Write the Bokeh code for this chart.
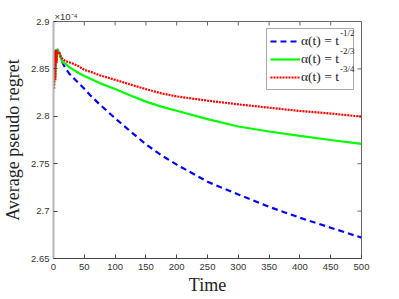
import math
from bokeh.plotting import figure
from bokeh.models import Legend, LegendItem, Label, FixedTicker, Range1d
from bokeh.embed import file_html
from bokeh.resources import INLINE

# ---- data (values in units of 1e-4) ----
t = [1, 2, 3, 4, 5, 6, 7, 8, 10, 12, 15, 20, 25, 30, 40, 50, 60, 75, 100, 125,
     150, 175, 200, 250, 300, 350, 400, 450, 500]
blue = [2.838, 2.869, 2.850, 2.871, 2.862, 2.871, 2.870, 2.871, 2.866, 2.861,
        2.856, 2.850, 2.8455, 2.842, 2.8355, 2.829, 2.822, 2.8125, 2.798, 2.784,
        2.7705, 2.759, 2.749, 2.731, 2.7175, 2.7045, 2.693, 2.6825, 2.672]
green = [2.833, 2.870, 2.842, 2.871, 2.858, 2.871, 2.868, 2.869, 2.865, 2.861,
         2.857, 2.855, 2.852, 2.850, 2.846, 2.8425, 2.8395, 2.835, 2.8287, 2.822,
         2.8155, 2.8102, 2.8058, 2.797, 2.7892, 2.784, 2.7794, 2.775, 2.771]
red = [2.829, 2.869, 2.838, 2.870, 2.856, 2.870, 2.867, 2.868, 2.866, 2.863,
       2.860, 2.858, 2.857, 2.856, 2.853, 2.849, 2.847, 2.8433, 2.8385, 2.8335,
       2.8287, 2.8242, 2.821, 2.8165, 2.8126, 2.8091, 2.8056, 2.8029, 2.7997]

series_labels = ["\u03b1(t) = t", "\u03b1(t) = t", "\u03b1(t) = t"]
series_exps = ["-1/2", "-2/3", "-3/4"]

x_ticks = [0, 50, 100, 150, 200, 250, 300, 350, 400, 450, 500]
y_ticks = [2.65, 2.7, 2.75, 2.8, 2.85, 2.9]
y_tick_labels = ["2.65", "2.7", "2.75", "2.8", "2.85", "2.9"]
x_label = "Time"
y_label = "Average pseudo regret"
multiplier = "\u00d710\u207b\u2074"

X0, X1 = 0, 500
Y0, Y1 = 2.65, 2.9

W, H = 391, 297
BL, BR, BT, BB = 52, 30, 21, 38
p = figure(width=W, height=H, output_backend="svg", toolbar_location=None,
           x_range=Range1d(X0, X1), y_range=Range1d(Y0, Y1),
           min_border_left=BL, min_border_right=BR, min_border_top=BT,
           min_border_bottom=BB)
p.background_fill_color = "white"
p.border_fill_color = "white"
p.grid.visible = False
p.outline_line_color = "#666666"
p.outline_line_width = 1

serif = "Liberation Serif"
sans = "Liberation Sans"

# multiplier shown as the (left aligned) title
p.title.text = multiplier
p.title.text_font = sans
p.title.text_font_size = "9.5px"
p.title.text_font_style = "normal"
p.title.text_color = "#333333"
p.title.align = "left"
p.title.standoff = 0
p.title.offset = 1

for ax in (p.xaxis[0], p.yaxis[0]):
    ax.major_tick_in = 4
    ax.major_tick_out = 0
    ax.minor_tick_in = 0
    ax.minor_tick_out = 0
    ax.major_label_text_font = sans
    ax.major_label_text_font_size = "9.5px"
    ax.major_label_text_color = "#333333"
    ax.axis_label_text_font = serif
    ax.axis_label_text_font_size = "18px"
    ax.axis_label_text_font_style = "normal"
    ax.axis_label_text_color = "#222222"
    ax.major_tick_line_color = "#444444"

p.xaxis.ticker = FixedTicker(ticks=x_ticks)
p.yaxis.ticker = FixedTicker(ticks=y_ticks)
p.yaxis.major_label_overrides = {v: s for v, s in zip(y_ticks, y_tick_labels)}
p.xaxis.axis_label = x_label
p.yaxis.axis_label = y_label
p.xaxis.axis_line_color = "#444444"
p.yaxis.axis_line_color = "#b5b5b5"
p.yaxis.axis_line_width = 2
p.xaxis.major_label_standoff = 5
p.yaxis.major_label_standoff = 4
p.xaxis.axis_label_standoff = 2
p.yaxis.axis_label_standoff = 5

# box ticks on the top and right edges (drawn from the tick lists)
p.ray(x=x_ticks, y=[Y1] * len(x_ticks), length=4, length_units="screen",
      angle=-math.pi / 2, line_color="#666666", line_width=1)
p.ray(x=[X1] * len(y_ticks), y=y_ticks, length=4, length_units="screen",
      angle=math.pi, line_color="#666666", line_width=1)

r_blue = p.line(t, blue, line_color="#0000ff", line_width=2.2, line_dash="6 4")
r_green = p.line(t, green, line_color="#00ff00", line_width=2.2)
r_red = p.line(t, red, line_color="#ff0000", line_width=2.2, line_dash="2 1")

legend = Legend(items=[LegendItem(label=series_labels[0], renderers=[r_blue]),
                       LegendItem(label=series_labels[1], renderers=[r_green]),
                       LegendItem(label=series_labels[2], renderers=[r_red])],
                location="top_right")
legend.margin = 7
legend.padding = 3
legend.spacing = 0
legend.label_text_font = serif
legend.label_text_font_size = "13.5px"
legend.label_text_color = "#222222"
legend.label_standoff = 1
legend.label_width = 49
legend.glyph_width = 30
legend.glyph_height = 18
legend.label_height = 18
legend.border_line_color = "#555555"
legend.border_line_width = 1
legend.background_fill_alpha = 0
p.add_layout(legend)

# frame geometry for placing exponent labels (pixels -> data)
fw, fh = W - BL - BR, H - BT - BB
def px2x(px):
    return X0 + px / fw * (X1 - X0)
def py2y(py):
    return Y1 - py / fh * (Y1 - Y0)

for i, e in enumerate(series_exps):
    p.add_layout(Label(x=px2x(287.5), y=py2y(12 + 18 * i), text=e,
                       text_font=serif, text_font_size="9px",
                       text_color="#222222", text_baseline="middle",
                       level="overlay"))

open("out.html", "w").write(file_html(p, INLINE))
